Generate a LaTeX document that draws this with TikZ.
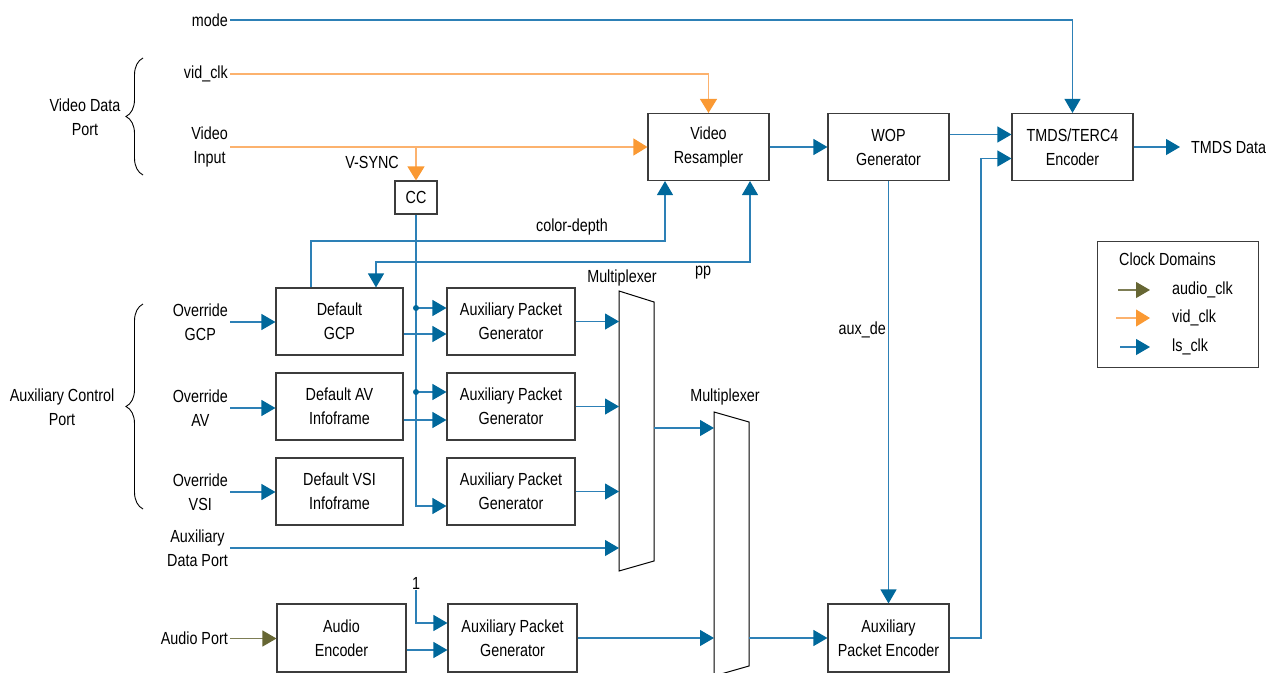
\documentclass[tikz,border=0pt]{standalone}
\usepackage{fontspec}
\setmainfont{Liberation Sans}[FakeStretch=0.82]
\usetikzlibrary{arrows.meta,calc,decorations.pathreplacing}
\definecolor{lsblue}{RGB}{0,104,155}
\definecolor{lsline}{RGB}{45,128,182}
\definecolor{vidor}{RGB}{250,153,51}
\definecolor{vidline}{RGB}{252,178,110}
\definecolor{audol}{RGB}{102,102,51}
\definecolor{audline}{RGB}{125,125,85}
\definecolor{boxgray}{RGB}{60,60,60}
\begin{document}
\begin{tikzpicture}[x=1pt,y=-1pt,
 every node/.style={font=\fontsize{17.5}{24}\selectfont},
 blk/.style={draw=boxgray,line width=1.1pt,align=center,inner sep=0pt,minimum height=67pt},
 lbl/.style={align=center,inner sep=2pt},
 ls/.style={draw=lsline,line width=1.1pt,arrows={-Triangle[length=14pt,width=16pt,color=lsblue]}},
 lsb/.style={draw=lsline,line width=1.1pt,arrows={Triangle[length=14pt,width=16pt,color=lsblue]-Triangle[length=14pt,width=16pt,color=lsblue]}},
 vid/.style={draw=vidline,line width=1.1pt,arrows={-Triangle[length=14pt,width=17pt,color=vidor]}},
 aud/.style={draw=audline,line width=1.1pt,arrows={-Triangle[length=14pt,width=16pt,color=audol]}},
 mux/.style={draw=black,line width=1pt},
 brc/.style={draw=black,line width=0.9pt,decorate,decoration={brace,amplitude=17pt}}
]
\useasboundingbox (0,0) rectangle (1269,672);
\clip (0,0) rectangle (1269,672);

% blocks
\node[blk,minimum width=121pt] (res) at (708.5,147) {Video\\Resampler};
\node[blk,minimum width=121pt] (wop) at (888.5,147) {WOP\\Generator};
\node[blk,minimum width=121pt] (tmds) at (1072.5,147) {TMDS/TERC4\\Encoder};
\node[blk,minimum width=42pt,minimum height=33pt] (cc) at (416,197.5) {CC};
\node[blk,minimum width=127pt] (dgcp) at (339.5,321.5) {Default\\GCP};
\node[blk,minimum width=127pt] (dav) at (339.5,406.5) {Default AV\\Infoframe};
\node[blk,minimum width=127pt] (dvsi) at (339.5,491.5) {Default VSI\\Infoframe};
\node[blk,minimum width=128pt] (apg1) at (511,321.5) {Auxiliary Packet\\Generator};
\node[blk,minimum width=128pt] (apg2) at (511,406.5) {Auxiliary Packet\\Generator};
\node[blk,minimum width=128pt] (apg3) at (511,491.5) {Auxiliary Packet\\Generator};
\node[blk,minimum width=129pt,minimum height=68pt] (aenc) at (341.5,638) {Audio\\Encoder};
\node[blk,minimum width=129pt,minimum height=68pt] (apg4) at (512.5,638) {Auxiliary Packet\\Generator};
\node[blk,minimum width=121pt,minimum height=68pt] (ape) at (888.5,638) {Auxiliary\\Packet Encoder};

% multiplexers
\draw[mux] (619,291) -- (654,302) -- (654,561) -- (619,571) -- cycle;
\draw[mux] (714,412) -- (749,422) -- (749,666) -- (714,676) -- cycle;
\coordinate (m1x) at (619,0);
\coordinate (m1o) at (654,428);
\coordinate (m2a) at (714,428);
\coordinate (m2o) at (749,638);

% left labels
\node[lbl,anchor=east] (mode) at (230,20) {mode};
\node[lbl,anchor=east] (vclk) at (230,74) {vid\_clk};
\node[lbl,anchor=east] (vin) at (230,147) {Video\\Input};
\node[lbl,anchor=east] (ogcp) at (230,322) {Override\\GCP};
\node[lbl,anchor=east] (oav) at (230,408) {Override\\AV};
\node[lbl,anchor=east] (ovsi) at (230,492) {Override\\VSI};
\node[lbl,anchor=east] (adp) at (230,548) {Auxiliary\\Data Port};
\node[lbl,anchor=east] (aport) at (230,638.5) {Audio Port};

\node[lbl] (vdp) at (85,117) {Video Data\\Port};
\node[lbl] (acp) at (62,407) {Auxiliary Control\\Port};
\draw[brc] (143,175) -- (143,58);
\draw[brc] (143,509) -- (143,304);

% other labels
\node[inner sep=0pt,anchor=east] (vsync) at (399,162) {V-SYNC};
\node[inner sep=0pt] (cdl) at (572,227) {color-depth};
\node[inner sep=0pt] (ppl) at (703,273) {pp};
\node[inner sep=0pt] (mx1) at (622,278) {Multiplexer};
\node[inner sep=0pt] (mx2) at (725,397) {Multiplexer};
\node[inner sep=0pt,anchor=east] (auxde) at (886,330) {aux\_de};
\node[inner sep=1pt] (one) at (416,583) {1};
\node[inner sep=0pt,anchor=west] (tdl) at (1191,147) {TMDS Data};

% top connectors
\draw[ls] (mode.east) -| (tmds.north);
\draw[vid] (vclk.east) -| (res.north);
\draw[vid] (vin.east) -- (res.west);
\coordinate (vs) at (cc.north |- vin.east);
\draw[vid] (vs) -- (cc.north);
\draw[ls] (res.east) -- (wop.west);
\coordinate (t1) at ($(tmds.west)+(0,-12.5)$);
\draw[ls] (wop.east |- t1) -- (t1);
\coordinate (tdo) at (1180,147);
\draw[ls] (tmds.east) -- (tdo);

% color-depth and pp
\coordinate (cdA) at (311,241);
\coordinate (r1) at ($(res.south)+(-43.5,0)$);
\draw[ls] (dgcp.north -| cdA) -- (cdA) -| (r1);
\coordinate (r2) at ($(res.south)+(41.5,0)$);
\coordinate (ppA) at (376,262);
\draw[lsb] (r2) |- (ppA) -- (dgcp.north -| ppA);

% overrides
\draw[ls] (ogcp.east) -- (ogcp.east -| dgcp.west);
\draw[ls] (oav.east) -- (oav.east -| dav.west);
\draw[ls] (ovsi.east) -- (ovsi.east -| dvsi.west);

% CC distribution
\coordinate (c3) at ($(apg3.west)+(0,14.5)$);
\draw[ls] (cc.south) |- (c3);
\coordinate (d1) at ($(apg1.west)+(0,-13.5)$);
\coordinate (d2) at ($(apg2.west)+(0,-14.5)$);
\draw[ls] (cc.south |- d1) -- (d1);
\draw[ls] (cc.south |- d2) -- (d2);
\fill[lsblue] (cc.south |- d1) circle (3pt);
\fill[lsblue] (cc.south |- d2) circle (3pt);
\coordinate (g1) at ($(apg1.west)+(0,12.5)$);
\coordinate (g2) at ($(apg2.west)+(0,13.5)$);
\draw[ls] (dgcp.east |- g1) -- (g1);
\draw[ls] (dav.east |- g2) -- (g2);

% into multiplexer 1
\draw[ls] (apg1.east) -- (apg1.east -| m1x);
\draw[ls] (apg2.east) -- (apg2.east -| m1x);
\draw[ls] (apg3.east) -- (apg3.east -| m1x);
\draw[ls] (adp.east) -- (adp.east -| m1x);
\draw[ls] (m1o) -- (m2a);

% audio
\draw[aud] (aport.east) -- (aport.east -| aenc.west);
\coordinate (o1) at ($(apg4.west)+(0,-15)$);
\draw[ls] (one.south) |- (o1);
\coordinate (o2) at ($(apg4.west)+(0,12)$);
\draw[ls] (aenc.east |- o2) -- (o2);
\draw[ls] (apg4.east) -- (apg4.east -| m2a);
\draw[ls] (m2o) -- (ape.west);

% aux encoder
\draw[ls] (wop.south) -- (ape.north);
\coordinate (t2) at ($(tmds.west)+(0,11.5)$);
\coordinate (t2x) at (981,0);
\draw[ls] (ape.east) -| (t2x |- t2) -- (t2);

% legend
\node[draw=boxgray,line width=1pt,minimum width=161pt,minimum height=126pt,inner sep=0pt] (leg) at (1177.5,304) {};
\node[anchor=west,inner sep=0pt] (legt) at (1119,259) {Clock Domains};
\coordinate (la1) at (1118,290); \coordinate (lb1) at (1150,290);
\coordinate (la2) at (1116,318); \coordinate (lb2) at (1150,318);
\coordinate (la3) at (1120,347); \coordinate (lb3) at (1150,347);
\draw[aud] (la1) -- (lb1);
\draw[vid] (la2) -- (lb2);
\draw[ls] (la3) -- (lb3);
\node[anchor=west,inner sep=0pt] (lt1) at (1172,290) {audio\_clk};
\node[anchor=west,inner sep=0pt] (lt2) at (1172,318) {vid\_clk};
\node[anchor=west,inner sep=0pt] (lt3) at (1172,347) {ls\_clk};
\end{tikzpicture}
\end{document}
